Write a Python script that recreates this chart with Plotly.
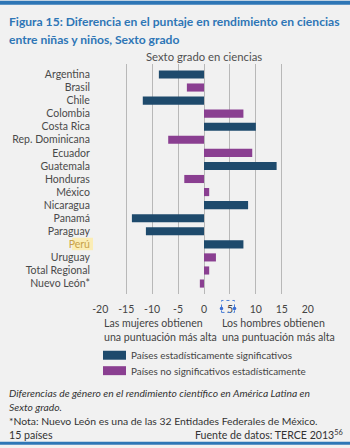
import plotly.graph_objects as go

paises = ["Argentina", "Brasil", "Chile", "Colombia", "Costa Rica", "Rep. Dominicana",
          "Ecuador", "Guatemala", "Honduras", "México", "Nicaragua", "Panamá",
          "Paraguay", "Perú", "Uruguay", "Total Regional", "Nuevo León*"]
diferencia = [-8.7, -3.3, -11.8, 7.6, 10.0, -6.9, 9.3, 14.0, -3.8, 1.0, 8.5, -13.9,
              -11.2, 7.6, 2.3, 1.0, -0.8]
significativo = [True, False, True, False, True, False, False, True, False, False,
                 True, True, True, True, False, False, False]
x_ticks = [-20, -15, -10, -5, 0, 5, 10, 15, 20]

C_SIG = "#1e4a6c"
C_NOSIG = "#8a3f91"
BG = "#f1f1f1"
BLUE = "#2e76b6"
FONT = "Lato, 'Open Sans', sans-serif"

W, H = 350, 448
L, R = 100, 308
T, B = 63.5, 294.5


def px(x):
    return (x - L) / (R - L)


def py(y):
    return (B - y) / (B - T)


colors = [C_SIG if s else C_NOSIG for s in significativo]
ticktext = [('<span style="color:#c8a24a">%s</span>' % p) if p == "Perú" else p for p in paises]

fig = go.Figure(go.Bar(
    x=diferencia, y=list(range(len(paises))), orientation="h",
    marker=dict(color=colors, line=dict(width=0)), width=0.62,
    hoverinfo="x+y", showlegend=False,
))

shapes = []
# top & bottom blue bars
shapes.append(dict(type="rect", xref="paper", yref="paper", x0=px(0), x1=px(W), y0=py(0), y1=py(4),
                   fillcolor=BLUE, line=dict(width=0), layer="below"))
shapes.append(dict(type="rect", xref="paper", yref="paper", x0=px(0), x1=px(W), y0=py(443), y1=py(446),
                   fillcolor=BLUE, line=dict(width=0), layer="below"))
# Peru highlight
shapes.append(dict(type="rect", xref="paper", yref="paper", x0=px(72), x1=px(93), y0=py(250.5), y1=py(238),
                   fillcolor="#fbedb5", line=dict(width=0), layer="below"))
# selection artefact around "5"
shapes.append(dict(type="rect", xref="paper", yref="paper", x0=px(221.5), x1=px(234.5), y0=py(313), y1=py(301),
                   fillcolor="rgba(0,0,0,0)", line=dict(color="#4a7fd8", width=1, dash="dot")))
for cx in (221.5, 234.5):
    shapes.append(dict(type="circle", xref="paper", yref="paper", x0=px(cx - 1.8), x1=px(cx + 1.8),
                       y0=py(310.8), y1=py(307.2), fillcolor="#3b6fd6", line=dict(width=0)))
# legend swatches
shapes.append(dict(type="rect", xref="paper", yref="paper", x0=px(103), x1=px(126), y0=py(360.5), y1=py(351.5),
                   fillcolor=C_SIG, line=dict(width=0)))
shapes.append(dict(type="rect", xref="paper", yref="paper", x0=px(103), x1=px(126), y0=py(376), y1=py(367),
                   fillcolor=C_NOSIG, line=dict(width=0)))

ann = []


def text(x, y, s, size=11, color="#444", xanchor="left", italic=False, bold=False, family=FONT):
    if italic:
        s = "<i>%s</i>" % s
    if bold:
        s = "<b>%s</b>" % s
    ann.append(dict(x=px(x), y=py(y), xref="paper", yref="paper", text=s, showarrow=False,
                    xanchor=xanchor, yanchor="middle", align=xanchor,
                    font=dict(family=family, size=size, color=color)))


text(7, 21, "Figura 15: Diferencia en el puntaje en rendimiento en ciencias", size=12.1, color=BLUE, bold=True)
text(7, 38.5, "entre niñas y niños, Sexto grado", size=12.1, color=BLUE, bold=True)
text(204, 56, "Sexto grado en ciencias", size=11.3, color="#505050", xanchor="center")
text(102, 324, "Las mujeres obtienen", size=10.6, color="#444")
text(102, 337.5, "una puntuación más alta", size=10.6, color="#444")
text(220, 324, "Los hombres obtienen", size=10.6, color="#444")
text(220, 337.5, "una puntuación más alta", size=10.6, color="#444")
text(129, 356, "Países estadísticamente significativos", size=9.9, color="#444")
text(129, 371.5, "Países no significativos estadísticamente", size=9.9, color="#444")
text(7, 394, "Diferencias de género en el rendimiento científico en América Latina en", size=10.3,
     color="#333", italic=True)
text(7, 408, "Sexto grado.", size=10.3, color="#333", italic=True)
text(7, 422, "*Nota: Nuevo León es una de las 32 Entidades Federales de México.", size=10.4, color="#333")
text(7, 436, "15 países", size=10.6, color="#333")
text(345, 436, "Fuente de datos: TERCE 2013<sup>56</sup>", size=10.6, color="#333", xanchor="right")

fig.update_layout(
    width=W, height=H,
    margin=dict(l=L, r=W - R, t=T, b=H - B, pad=0),
    paper_bgcolor=BG, plot_bgcolor=BG,
    font=dict(family=FONT, color="#444"),
    shapes=shapes, annotations=ann,
    bargap=0.38,
    xaxis=dict(range=[-20.05, 20.05], tickvals=x_ticks, ticktext=[str(v) for v in x_ticks],
               showgrid=True, gridcolor="#b8b8b8", gridwidth=1, zeroline=False,
               showline=False, ticks="outside", ticklen=5, tickcolor="rgba(0,0,0,0)",
               tickfont=dict(size=10.5, color="#444"), fixedrange=True),
    yaxis=dict(range=[16.8, -0.8], tickvals=list(range(len(paises))), ticktext=ticktext,
               showgrid=False, zeroline=False, showline=False,
               ticks="outside", ticklen=7, tickcolor="rgba(0,0,0,0)",
               tickfont=dict(size=10.5, color="#4a4a4a"), fixedrange=True),
)

fig.write_html("out.html")
